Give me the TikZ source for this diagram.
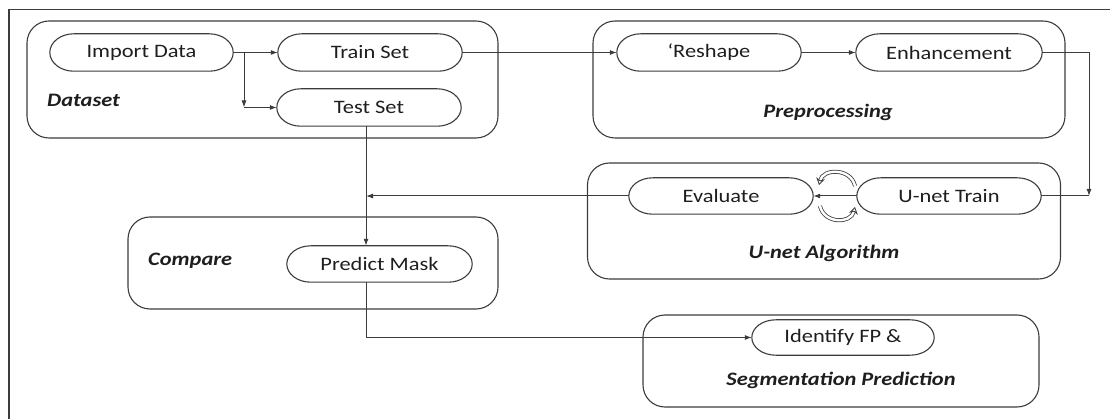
\documentclass[tikz,border=0pt]{standalone}
\usepackage{fontspec}
\setmainfont{Carlito}[FakeStretch=1.18]
\usetikzlibrary{arrows.meta,calc}
\definecolor{ln}{HTML}{3C3C3C}
\definecolor{tx}{HTML}{1E1E1E}
\newcommand\drawpill[2]{%
  \draw[pillline] ($(#1.north west)+(#2,0pt)$) -- ($(#1.north east)+(-#2,0pt)$)
    .. controls ($(#1.north east)+(-0.448*#2,0pt)$) and ($(#1.east)!0.552!(#1.north east)$) .. (#1.east)
    .. controls ($(#1.east)!0.552!(#1.south east)$) and ($(#1.south east)+(-0.448*#2,0pt)$) .. ($(#1.south east)+(-#2,0pt)$)
    -- ($(#1.south west)+(#2,0pt)$)
    .. controls ($(#1.south west)+(0.448*#2,0pt)$) and ($(#1.west)!0.552!(#1.south west)$) .. (#1.west)
    .. controls ($(#1.west)!0.552!(#1.north west)$) and ($(#1.north west)+(0.448*#2,0pt)$) .. ($(#1.north west)+(#2,0pt)$)
    -- cycle;}
\begin{document}
\begin{tikzpicture}[x=1pt,y=-1pt,
  every node/.style={text=tx},
  pill/.style={rectangle, minimum width=184pt, minimum height=37pt, inner sep=0pt, font=\fontsize{19}{19}\selectfont},
  pillline/.style={draw=ln, line width=1.1pt},
  grp/.style={draw=ln, line width=1.1pt, rounded corners=22pt, inner sep=0pt},
  glabel/.style={font=\fontsize{19}{19}\selectfont\bfseries\itshape, inner sep=0pt},
  arr/.style={draw=ln, line width=1pt, -{Latex[length=7pt,width=5pt]}},
  con/.style={draw=ln, line width=1pt},
  cyc/.style={draw=ln, line width=0.8pt, double=white, double distance=2.4pt, -{Stealth[open,length=7pt,width=9pt]}}
]
\useasboundingbox (0,0) rectangle (1110,419);
% outer frame
\draw[ln, line width=1.1pt] (9,419) -- (9,9.5) -- (1110,9.5);
% groups
\node[grp, minimum width=471pt, minimum height=117pt] (gdata) at (262.5,79.5) {};
\node[grp, minimum width=472pt, minimum height=117pt] (gpre) at (829,79.5) {};
\node[grp, minimum width=473pt, minimum height=116pt] (gunet) at (824,221) {};
\node[grp, minimum width=370pt, minimum height=92pt] (gcomp) at (313,263) {};
\node[grp, minimum width=396pt, minimum height=92pt] (gseg) at (841,361) {};
% group labels
\node[glabel, anchor=west] (ldata) at (47,100) {Dataset};
\node[glabel] (lpre) at (828,112) {Preprocessing};
\node[glabel] (lunet) at (824,253) {U-net Algorithm};
\node[glabel, anchor=west] (lcomp) at (148,261) {Compare};
\node[glabel] (lseg) at (841,380) {Segmentation Prediction};
% pills
\node[pill, minimum width=183pt] (import) at (141.5,52.5) {Import Data};
\node[pill] (train) at (370,52.5) {Train Set};
\node[pill] (test) at (369,107.5) {Test Set};
\node[pill] (reshape) at (709,52.5) {`Reshape};
\node[pill, minimum width=186pt] (enh) at (949,52.5) {Enhancement};
\node[pill, minimum height=36pt] (eval) at (721,196) {Evaluate};
\node[pill, minimum height=36pt] (unet) at (949,196) {U-net Train};
\node[pill, minimum width=185pt, minimum height=36pt] (predict) at (379.5,264) {Predict Mask};
\node[pill, minimum width=182pt, minimum height=35pt] (identify) at (843,337.5) {Identify FP \&};
\foreach \p in {import,train,test,reshape,enh,eval,unet,predict,identify} {\drawpill{\p}{24pt}}
% junction coordinates
\coordinate (j1) at (244,52.5);
\coordinate (j2) at (244,107.5);
\coordinate (j3) at (1089,196);
\coordinate (j4) at (366,196);
% connectors
\draw[arr] (import.east) -- (train.west);
\draw[arr] (j1) -- (j2);
\draw[arr] (j2) -- (test.west);
\draw[arr] (train.east) -- (reshape.west);
\draw[arr] (reshape.east) -- (enh.west);
\draw[arr] (enh.east) -| (j3);
\draw[con] (j3) -- (unet.east);
\draw[arr] (unet.west) -- (eval.east);
\draw[arr] (eval.west) -- (j4);
\draw[arr] (test.south -| j4) -- (predict.north -| j4);
\draw[arr] (predict.south -| j4) |- (identify.west);
% cycle arrows
\draw[cyc] (855,186) .. controls (851,168) and (823,168) .. (819,185);
\draw[cyc] (820,206) .. controls (824,224) and (851,224) .. (855,207);
\end{tikzpicture}
\end{document}
